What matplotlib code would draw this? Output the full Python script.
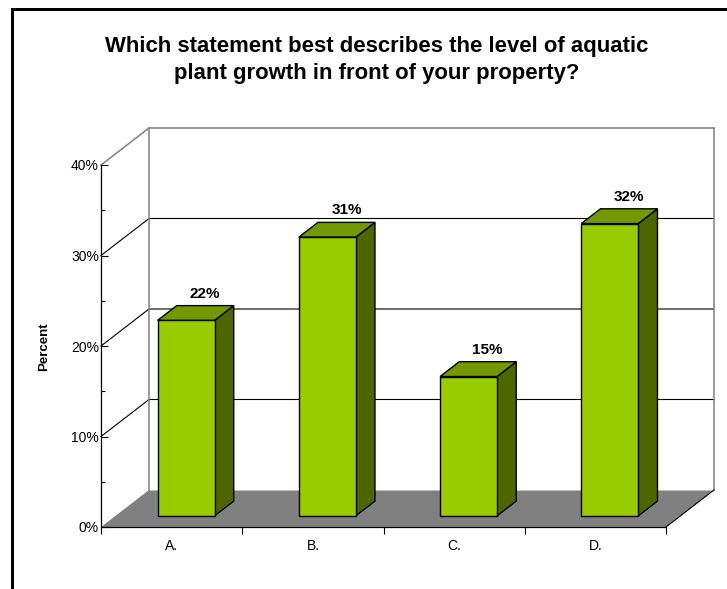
#!/usr/bin/python3

import matplotlib
matplotlib.use('Agg')
import matplotlib.pyplot as plt
from matplotlib.patches import Polygon, Rectangle

plt.rcParams['font.family'] = ['Liberation Sans', 'DejaVu Sans']

categories = ['A.', 'B.', 'C.', 'D.']
values = [21.6, 30.8, 15.4, 32.3]
value_labels = ['22%', '31%', '15%', '32%']
y_major = [0, 10, 20, 30, 40]
y_minor = [5, 15, 25, 35]
y_labels = ['0%', '10%', '20%', '30%', '40%']
title = 'Which statement best describes the level of aquatic\nplant growth in front of your property?'

W, H = 727, 589
# depth of the fake 3d box, in data units
depth_x = 48 / 141.25
depth_y = 37 / 9.05
# bar sits between these fractions of the depth
d0, d1 = 0.3, 0.7
bar_w = 57 / 141.25

green = '#99cc00'
green_top = '#739900'
green_side = '#4d6600'
gray = '#808080'


def proj(x, y, d):
    return (x + d*depth_x, y + d*depth_y)


fig = plt.figure(figsize=(W/100, H/100), dpi=100)
ax = fig.add_axes([101/W, 1 - 527/H, 565/W, 362/H])
ax.set_xlim(0, 4)
ax.set_ylim(0, 40)
ax.patch.set_visible(False)

# outer frame, only left and top are in the picture
fig.add_artist(Rectangle((11/W, 0), 3/W, 1 - 8/H, transform=fig.transFigure, color='black', lw=0))
fig.add_artist(Rectangle((11/W, 1 - 11/H), 1 - 11/W, 3/H, transform=fig.transFigure, color='black', lw=0))

# floor
floor = [proj(0, 0, 0), proj(4, 0, 0), proj(4, 0, 1), proj(0, 0, 1)]
ax.add_patch(Polygon(floor, closed=True, fc=gray, ec='none', zorder=1, clip_on=False))
ax.plot(*zip(proj(4, 0, 0), proj(4, 0, 1)), color='black', lw=0.8, zorder=1.5, clip_on=False)

# back wall and side wall lines
for yv in y_major[1:]:
    c = gray if yv == 40 else 'black'
    lw = 1.1 if yv == 40 else 0.8
    ax.plot(*zip(proj(0, yv, 0), proj(0, yv, 1), proj(4, yv, 1)), color=c, lw=lw, zorder=1.2, clip_on=False)
ax.plot(*zip(proj(0, 0, 1), proj(0, 40, 1)), color=gray, lw=1.1, zorder=1.2, clip_on=False)
ax.plot(*zip(proj(4, 0, 1), proj(4, 40, 1)), color=gray, lw=1.1, zorder=1.2, clip_on=False)
ax.plot(*zip(proj(0, 0, 1), proj(4, 0, 1)), color='#c0c0c0', lw=0.8, zorder=1.1, clip_on=False)

# bars
for i, v in enumerate(values):
    xl = i + 0.5 - bar_w/2
    xr = i + 0.5 + bar_w/2
    front = [proj(xl, 0, d0), proj(xr, 0, d0), proj(xr, v, d0), proj(xl, v, d0)]
    top = [proj(xl, v, d0), proj(xr, v, d0), proj(xr, v, d1), proj(xl, v, d1)]
    side = [proj(xr, 0, d0), proj(xr, 0, d1), proj(xr, v, d1), proj(xr, v, d0)]
    for pts, col in ((side, green_side), (top, green_top), (front, green)):
        ax.add_patch(Polygon(pts, closed=True, fc=col, ec='black', lw=1.0, joinstyle='miter', zorder=3, clip_on=False))
    ax.annotate(value_labels[i], proj(i + 0.5, v, d1), xytext=(0, 3.5), textcoords='offset points',
                ha='center', va='bottom', fontsize=11, fontweight='bold', zorder=4)

# axes
for s in ('top', 'right'):
    ax.spines[s].set_visible(False)
for s in ('left', 'bottom'):
    ax.spines[s].set_linewidth(0.9)
    ax.spines[s].set_zorder(2)

ax.set_yticks(y_major, y_labels)
ax.set_yticks(y_minor, minor=True)
ax.tick_params(axis='y', which='major', direction='in', length=5, width=0.8, labelsize=10, pad=1.5)
ax.tick_params(axis='y', which='minor', direction='in', length=3, width=0.8)
ax.set_xticks([0, 1, 2, 3, 4])
ax.set_xticks([0.5, 1.5, 2.5, 3.5], categories, minor=True)
ax.tick_params(axis='x', which='major', direction='out', length=5, width=0.8, labelbottom=False)
ax.tick_params(axis='x', which='minor', length=0, labelsize=10, pad=8.5)

fig.text(44/W, 1 - 347/H, 'Percent', rotation=90, ha='center', va='center', fontsize=9.5, fontweight='bold')
fig.text(377/W, 1 - 60/H, title, ha='center', va='center', fontsize=15.9, fontweight='bold', linespacing=1.38)

fig.savefig('out.png', dpi=100)
plt.close(fig)
